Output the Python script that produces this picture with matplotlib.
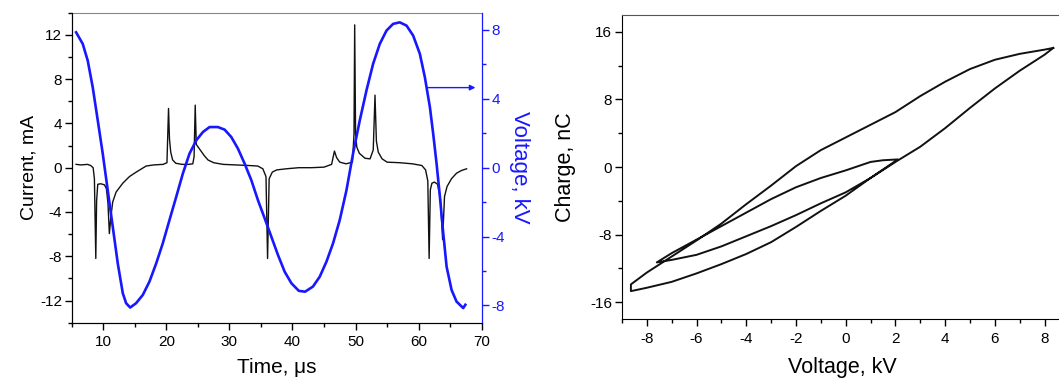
import matplotlib
matplotlib.use("Agg")
import matplotlib.pyplot as plt
from matplotlib.ticker import MultipleLocator

plt.rcParams['font.family'] = ['Liberation Sans', 'DejaVu Sans']
plt.rcParams['axes.unicode_minus'] = False

# ---------------- data: left panel ----------------
time_I = [5.7, 6.5, 7.5, 8.0, 8.4, 8.6, 8.82, 8.95, 9.13, 9.6, 10.2, 10.5, 10.75, 10.97,
          11.2, 11.5, 12.04, 13.1, 14.16, 15.22, 16.8, 18.0, 19.5, 20.1, 20.35, 20.5,
          20.7, 21.0, 21.5, 22.5, 23.5, 24.2, 24.4, 24.58, 24.75, 25.0, 25.5, 26.0,
          26.6, 27.5, 29.0, 31.0, 33.0, 34.5, 35.3, 35.8, 36.05, 36.3, 36.8, 37.5,
          39.0, 41.0, 43.0, 45.0, 46.2, 46.65, 47.0, 47.5, 48.5, 49.5, 49.75, 49.86,
          50.0, 50.2, 50.6, 51.5, 52.3, 52.8, 53.08, 53.3, 53.6, 54.2, 55.0, 57.0,
          59.0, 60.5, 61.1, 61.45, 61.66, 61.85, 62.1, 62.5, 63.0, 63.45, 63.8, 64.1,
          64.5, 65.2, 66.0, 66.8, 67.6]
current = [0.3, 0.25, 0.3, 0.2, 0.0, -1.0, -8.2, -3.0, -1.5, -1.45, -1.55, -1.9, -3.2, -5.95,
           -4.5, -3.1, -2.2, -1.4, -0.8, -0.4, 0.15, 0.25, 0.3, 0.45, 5.35, 2.6,
           1.4, 0.7, 0.4, 0.3, 0.3, 0.35, 1.0, 5.65, 2.1, 1.9, 1.5, 1.1,
           0.7, 0.45, 0.3, 0.25, 0.2, 0.15, -0.1, -0.8, -8.2, -1.0, -0.4, -0.2,
           -0.1, 0.0, 0.0, 0.05, 0.3, 1.5, 0.9, 0.5, 0.35, 0.5, 3.0, 12.9,
           3.0, 1.85, 1.3, 0.85, 0.8, 1.6, 6.55, 2.4, 1.4, 0.8, 0.5, 0.45,
           0.35, 0.2, -0.2, -1.2, -8.2, -2.0, -1.4, -1.3, -1.5, -2.8, -6.5, -2.6,
           -1.7, -1.0, -0.5, -0.25, -0.1]

time_V = [5.7, 6.75, 7.54, 8.33, 9.13, 9.92, 10.71, 11.51, 12.3, 13.1, 13.63, 14.27,
          15.2, 16.27, 17.33, 18.4, 19.44, 20.5, 21.57, 22.62, 23.68, 24.75, 25.8,
          26.86, 28.17, 29.24, 30.3, 31.35, 32.41, 33.48, 34.52, 35.59, 36.65, 37.7,
          38.76, 39.83, 41.0, 42.0, 43.25, 44.32, 45.38, 46.43, 47.49, 48.56, 49.6,
          50.67, 51.73, 52.78, 53.84, 54.9, 55.95, 57.0, 58.08, 59.13, 60.19, 60.98,
          61.78, 62.3, 62.84, 63.37, 63.9, 64.43, 65.22, 66.0, 67.06, 67.4]
voltage = [7.86, 7.19, 6.22, 4.68, 2.75, 0.82, -1.30, -3.43, -5.55, -7.29, -7.87, -8.12,
           -7.87, -7.39, -6.61, -5.55, -4.39, -3.04, -1.69, -0.34, 0.82, 1.59, 2.07,
           2.36, 2.36, 2.21, 1.78, 1.11, 0.24, -0.73, -1.88, -2.94, -4.01, -5.07,
           -6.04, -6.71, -7.15, -7.2, -6.9, -6.33, -5.46, -4.39, -3.04, -1.30, 0.82,
           2.75, 4.49, 6.03, 7.19, 7.96, 8.35, 8.44, 8.25, 7.67, 6.61, 5.26,
           3.52, 1.98, 0.24, -1.69, -3.81, -5.75, -7.1, -7.77, -8.15, -7.96]

arrow_V = 4.65
arrow_t = (61.3, 69.0)

# ---------------- data: right panel (Q-V loop) ----------------
loopA_V = [8.35, 8.0, 7.0, 6.0, 5.0, 4.0, 3.0, 2.0, 1.0, 0.0, -1.0, -2.0, -3.0, -4.0,
           -5.0, -6.0, -7.0, -8.0, -8.64]
loopA_Q = [14.1, 13.9, 13.4, 12.7, 11.6, 10.1, 8.4, 6.5, 5.0, 3.5, 2.0, 0.1, -2.2, -4.4,
           -6.7, -8.7, -10.6, -12.5, -13.9]
loopD_V = [-8.64, -8.0, -7.0, -6.0, -5.0, -4.0, -3.0, -2.0, -1.0, 0.0, 1.0, 2.1]
loopD_Q = [-14.7, -14.3, -13.6, -12.6, -11.5, -10.3, -8.9, -7.1, -5.2, -3.4, -1.3, 0.9]
loopB_V = [2.1, 1.5, 1.0, 0.0, -1.0, -2.0, -3.0, -4.0, -5.0, -6.0, -7.0, -7.6]
loopB_Q = [0.9, 0.8, 0.6, -0.4, -1.3, -2.4, -3.8, -5.4, -7.0, -8.6, -10.2, -11.3]
loopC_V = [-7.6, -7.0, -6.0, -5.0, -4.0, -3.0, -2.0, -1.0, 0.0, 1.0, 2.0, 3.0, 4.0,
           5.0, 6.0, 7.0, 8.0, 8.35]
loopC_Q = [-11.3, -11.0, -10.4, -9.4, -8.2, -7.0, -5.7, -4.3, -3.0, -1.3, 0.6, 2.4, 4.6,
           7.0, 9.3, 11.4, 13.3, 14.1]

BLUE = '#1818ff'

fig = plt.figure(figsize=(10.59, 3.80), dpi=100)

# ---------- left panel ----------
ax = fig.add_axes([0.0677, 0.1508, 0.3872, 0.8158])
ax.plot(time_I, current, color='#111111', lw=1.0)
ax.set_xlim(5, 70)
ax.set_ylim(-14, 14)
ax.set_xticks([10, 20, 30, 40, 50, 60, 70])
ax.xaxis.set_minor_locator(MultipleLocator(5))
ax.yaxis.set_major_locator(MultipleLocator(4))
ax.yaxis.set_minor_locator(MultipleLocator(2))
ax.tick_params(which='both', direction='out', labelsize=11, top=False, right=False)
ax.tick_params(which='major', length=5, width=1)
ax.tick_params(which='minor', length=3, width=1)
ax.tick_params(axis='x', pad=4)
ax.tick_params(axis='y', pad=2)
ax.spines['top'].set_color('#888888')
ax.set_xlabel('Time, μs', fontsize=15, labelpad=6)
ax.set_ylabel('Current, mA', fontsize=14, labelpad=2)

ax2 = ax.twinx()
ax2.plot(time_V, voltage, color=BLUE, lw=1.9)
ax2.set_ylim(-9, 9)
ax2.yaxis.set_major_locator(MultipleLocator(4))
ax2.yaxis.set_minor_locator(MultipleLocator(2))
ax2.tick_params(which='both', direction='out', colors=BLUE, labelsize=11, pad=2)
ax2.tick_params(which='major', length=5, width=1)
ax2.tick_params(which='minor', length=3, width=1)
ax2.spines['right'].set_color(BLUE)
ax2.spines['top'].set_visible(False)
ax2.set_ylabel('Voltage, kV', color=BLUE, fontsize=16, rotation=270, labelpad=18)
ax2.annotate('', xy=(arrow_t[1], arrow_V), xytext=(arrow_t[0], arrow_V),
             arrowprops=dict(arrowstyle='-|>', color=BLUE, lw=1.0,
                             mutation_scale=8, shrinkA=0, shrinkB=0))

# ---------- right panel ----------
bx = fig.add_axes([0.5873, 0.1605, 0.4155, 0.80])
loop_V = loopA_V + loopD_V + loopB_V + loopC_V
loop_Q = loopA_Q + loopD_Q + loopB_Q + loopC_Q
bx.plot(loop_V, loop_Q, color='#111111', lw=1.4)
bx.set_xlim(-9, 8.7)
bx.set_ylim(-18, 18)
bx.xaxis.set_major_locator(MultipleLocator(2))
bx.xaxis.set_minor_locator(MultipleLocator(1))
bx.yaxis.set_major_locator(MultipleLocator(8))
bx.yaxis.set_minor_locator(MultipleLocator(4))
bx.tick_params(which='both', direction='out', labelsize=11, top=False, right=False)
bx.tick_params(which='major', length=5, width=1)
bx.tick_params(which='minor', length=3, width=1)
bx.tick_params(axis='y', pad=2)
bx.tick_params(axis='x', pad=4)
bx.spines['top'].set_color('#555555')
bx.spines['right'].set_visible(False)
bx.set_xlabel('Voltage, kV', fontsize=15.5, labelpad=8)
bx.set_ylabel('Charge, nC', fontsize=15.5, labelpad=10)

fig.savefig('out.png', dpi=100)
